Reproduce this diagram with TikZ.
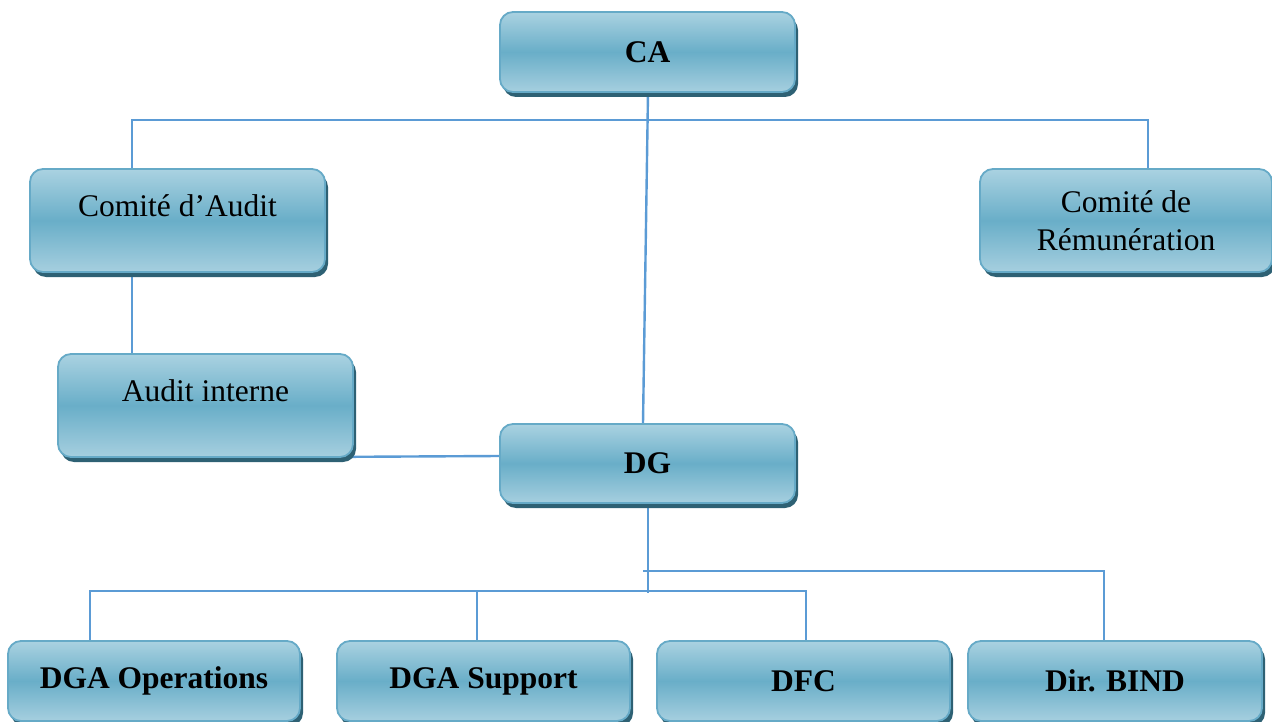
\documentclass[tikz,border=0pt]{standalone}
\usepackage{fontspec}
\setmainfont{Liberation Serif}
\usetikzlibrary{shadows,backgrounds}

\definecolor{boxtop}{HTML}{AAD2E1}
\definecolor{boxmid}{HTML}{69AEC8}
\definecolor{boxbot}{HTML}{A6CFDF}
\definecolor{boxedge}{HTML}{66AAC7}
\definecolor{boxshade}{HTML}{2E6174}
\definecolor{linkc}{HTML}{5B9BD5}

\tikzset{
  orgbox/.style={draw=boxedge, line width=1.8pt, rounded corners=13pt,
    top color=boxtop, bottom color=boxbot, middle color=boxmid,
    drop shadow={shadow xshift=3pt, shadow yshift=-5pt, fill=boxshade, opacity=1},
    align=center, inner sep=0pt, text=black,
    font=\fontsize{31.5}{38}\selectfont},
  headbox/.style={orgbox, font=\fontsize{31.5}{38}\selectfont\bfseries},
  link/.style={draw=linkc, line width=2.4pt}
}

\newcommand{\uptext}[1]{\raisebox{15pt}[\height][\depth]{#1}}

\begin{document}
\begin{tikzpicture}[x=1pt, y=-1pt]
  \useasboundingbox (0,0) rectangle (1272,722);

  % governance level
  \node[headbox, minimum width=295pt, minimum height=80pt] (CA) at (647.5,52) {CA};
  \node[orgbox, minimum width=295pt, minimum height=103pt] (CAA) at (177.5,220.5) {\uptext{Comité d’Audit}};
  \node[orgbox, minimum width=292pt, minimum height=103pt] (REM) at (1126,220.5) {Comité de\\Rémunération};
  \node[orgbox, minimum width=295pt, minimum height=103pt] (AI) at (205.5,405.5) {\uptext{Audit interne}};

  % executive level
  \node[headbox, minimum width=295pt, minimum height=79pt] (DG) at (647.5,463.5) {DG};

  \node[headbox, minimum width=292pt, minimum height=80pt] (OPS) at (154,681) {DGA Operations};
  \node[headbox, minimum width=293pt, minimum height=80pt] (SUP) at (483.5,681) {DGA Support};
  \node[headbox, minimum width=293pt, minimum height=80pt] (DFC) at (803.5,681) {DFC};
  \node[headbox, minimum width=294pt, minimum height=80pt] (BIND) at (1115,681) {Dir. BIND};

  % connectors behind the boxes
  \begin{pgfonlayer}{background}
    \draw[link] ([xshift=0.5pt]CA.south) -- ([xshift=-4.5pt]DG.north);
    \draw[link] ([xshift=-45.5pt]CAA.north) -- ++(0,-48) -| ([xshift=22pt]REM.north);
    \draw[link] ([xshift=-45.5pt]CAA.south) -- ([xshift=-73.5pt]AI.north);
    \draw[link] ([yshift=7.5pt]DG.west) -- ([xshift=-16pt,yshift=1pt]AI.south east);

    \draw[link] ([xshift=0.5pt]DG.south) -- ++(0,89);
    \draw[link] ([xshift=-64pt]OPS.north) -- ++(0,-49) -| ([xshift=2.5pt]DFC.north);
    \draw[link] ([xshift=-6.5pt]SUP.north) -- ++(0,-49);
    \draw[link] ([xshift=-11pt]BIND.north) -- ++(0,-69) -- ++(-461,0);
  \end{pgfonlayer}
\end{tikzpicture}
\end{document}
